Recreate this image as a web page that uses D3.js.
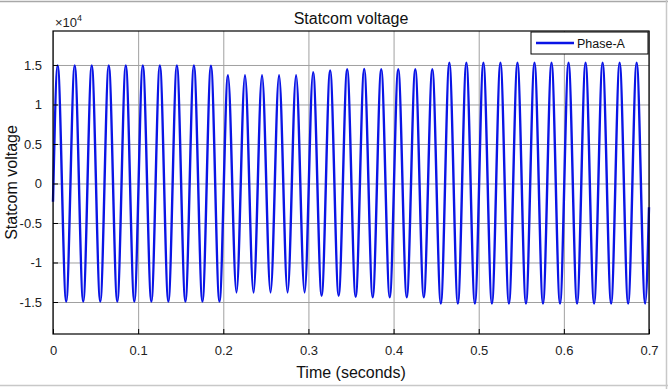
<!DOCTYPE html>
<html>
<head>
<meta charset="utf-8">
<script src="https://cdn.jsdelivr.net/npm/d3@7"></script>
<style>
  body { margin: 0; background: #fff; }
  svg { display: block; font-family: "Liberation Sans", Arial, sans-serif; }
</style>
</head>
<body>
<svg id="chart" width="668" height="389"></svg>
<script>
// Extremes of the Phase-A waveform (start, each peak/trough, end)
const times = [
  0,
  0.0055, 0.0155, 0.0255, 0.0355, 0.0455, 0.0555, 0.0655, 0.0755, 0.0855, 0.0955,
  0.1055, 0.1155, 0.1255, 0.1355, 0.1455, 0.1555, 0.1655, 0.1755, 0.1855, 0.1955,
  0.2055, 0.2155, 0.2255, 0.2355, 0.2455, 0.2555, 0.2655, 0.2755, 0.2855, 0.2955,
  0.3055, 0.3155, 0.3255, 0.3355, 0.3455, 0.3555, 0.3655, 0.3755, 0.3855, 0.3955,
  0.4055, 0.4155, 0.4255, 0.4355, 0.4455, 0.4555, 0.4655, 0.4755, 0.4855, 0.4955,
  0.5055, 0.5155, 0.5255, 0.5355, 0.5455, 0.5555, 0.5655, 0.5755, 0.5855, 0.5955,
  0.6055, 0.6155, 0.6255, 0.6355, 0.6455, 0.6555, 0.6655, 0.6755, 0.6855, 0.6955,
  0.7
];
const phaseA = [
  -2300,
  14950, -14950, 14950, -14950, 14950, -14950, 14950, -14950, 14950, -14950,
  14950, -14950, 14950, -14950, 14950, -14950, 14950, -14950, 14900, -14950,
  13700, -13800, 13700, -13800, 13700, -13800, 13700, -13800, 13700, -13800,
  14100, -14200, 14300, -14200, 14450, -14350, 14500, -14400, 14450, -14400,
  14450, -14400, 14450, -14400, 14450, -15200, 15300, -15200, 15300, -15200,
  15300, -15200, 15300, -15200, 15300, -15200, 15300, -15200, 15300, -15200,
  15300, -15200, 15300, -15200, 15300, -15200, 15300, -15200, 15300, -15200,
  -3000
];

const xTicks = [0, 0.1, 0.2, 0.3, 0.4, 0.5, 0.6, 0.7];
const yTicks = [-15000, -10000, -5000, 0, 5000, 10000, 15000];
const yTickLabels = ['-1.5', '-1', '-0.5', '0', '0.5', '1', '1.5'];

const title = 'Statcom voltage';
const xLabel = 'Time (seconds)';
const yLabel = 'Statcom voltage';
const seriesName = 'Phase-A';

const svg = d3.select('#chart');
const width = 668, height = 389;
const margin = { top: 31, right: 19, bottom: 55, left: 53 };
const innerWidth = width - margin.left - margin.right;
const innerHeight = height - margin.top - margin.bottom;

// window frame lines from the screenshot
svg.append('line').attr('x1', 0).attr('x2', width).attr('y1', 1.5).attr('y2', 1.5)
  .attr('stroke', '#a8a8a8').attr('stroke-width', 1.5);
svg.append('line').attr('x1', 0).attr('x2', width).attr('y1', 385.5).attr('y2', 385.5)
  .attr('stroke', '#c8c8c8').attr('stroke-width', 1.5);
svg.append('line').attr('x1', 666.5).attr('x2', 666.5).attr('y1', 0).attr('y2', height)
  .attr('stroke', '#c8c8c8').attr('stroke-width', 1.5);

const g = svg.append('g')
  .attr('transform', `translate(${margin.left},${margin.top})`);

const x = d3.scaleLinear().domain([0, 0.7]).range([0, innerWidth]);
const y = d3.scaleLinear().domain([-19050, 19300]).range([innerHeight, 0]);

// Grid lines
g.append('g')
  .call(d3.axisBottom(x).tickValues(xTicks).tickSize(innerHeight).tickFormat(() => ''))
  .call(s => s.select('.domain').remove())
  .call(s => s.selectAll('text').remove())
  .call(s => s.selectAll('line').attr('stroke', '#a0a0a0').attr('stroke-width', 1));
g.append('g')
  .call(d3.axisLeft(y).tickValues(yTicks).tickSize(-innerWidth).tickFormat(() => ''))
  .call(s => s.select('.domain').remove())
  .call(s => s.selectAll('text').remove())
  .call(s => s.selectAll('line').attr('stroke', '#a0a0a0').attr('stroke-width', 1));

// Waveform
const pts = times.map((t, i) => [t, phaseA[i]]);
const line = d3.line()
  .x(d => x(d[0]))
  .y(d => y(d[1]))
  .curve(d3.curveMonotoneX);

g.append('path')
  .datum(pts)
  .attr('fill', 'none')
  .attr('stroke', '#0a14e6')
  .attr('stroke-width', 2.4)
  .attr('stroke-linejoin', 'round')
  .attr('d', line);

// Axes box
g.append('rect')
  .attr('x', 0).attr('y', 0)
  .attr('width', innerWidth).attr('height', innerHeight)
  .attr('fill', 'none').attr('stroke', '#000').attr('stroke-width', 1.2);

// X axis
g.append('g')
  .attr('transform', `translate(0,${innerHeight})`)
  .call(d3.axisBottom(x).tickValues(xTicks).tickSizeInner(-5).tickSizeOuter(0).tickPadding(12)
    .tickFormat(d3.format('')))
  .call(s => s.select('.domain').remove())
  .call(s => s.selectAll('line').attr('stroke', '#000'))
  .selectAll('text')
  .attr('fill', '#222')
  .attr('font-size', '13px');

// Y axis
g.append('g')
  .call(d3.axisLeft(y).tickValues(yTicks).tickSizeInner(-5).tickSizeOuter(0).tickPadding(11)
    .tickFormat((d, i) => yTickLabels[i]))
  .call(s => s.select('.domain').remove())
  .call(s => s.selectAll('line').attr('stroke', '#000'))
  .selectAll('text')
  .attr('fill', '#222')
  .attr('font-size', '13px');

// Exponent label
const exp = svg.append('text')
  .attr('x', 55).attr('y', 27)
  .attr('fill', '#222')
  .attr('font-size', '13px');
exp.append('tspan').text('\u00d710');
exp.append('tspan').attr('dy', -6).attr('font-size', '9px').text('4');

// Title
svg.append('text')
  .attr('x', margin.left + innerWidth / 2).attr('y', 24)
  .attr('text-anchor', 'middle')
  .attr('font-size', '16px')
  .attr('fill', '#111')
  .text(title);

// X label
svg.append('text')
  .attr('x', margin.left + innerWidth / 2).attr('y', 378)
  .attr('text-anchor', 'middle')
  .attr('font-size', '16px')
  .attr('fill', '#111')
  .text(xLabel);

// Y label
svg.append('text')
  .attr('transform', `translate(17,${margin.top + innerHeight / 2}) rotate(-90)`)
  .attr('text-anchor', 'middle')
  .attr('font-size', '16px')
  .attr('fill', '#111')
  .text(yLabel);

// Legend
const lg = g.append('g').attr('transform', `translate(${innerWidth - 118},1)`);
lg.append('rect')
  .attr('width', 117).attr('height', 22)
  .attr('fill', '#fff').attr('stroke', '#000').attr('stroke-width', 1);
lg.append('line')
  .attr('x1', 5).attr('x2', 43).attr('y1', 11).attr('y2', 11)
  .attr('stroke', '#0a14e6').attr('stroke-width', 2.4);
lg.append('text')
  .attr('x', 46).attr('y', 15.5)
  .attr('font-size', '12.5px')
  .attr('fill', '#111')
  .text(seriesName);
</script>
</body>
</html>
